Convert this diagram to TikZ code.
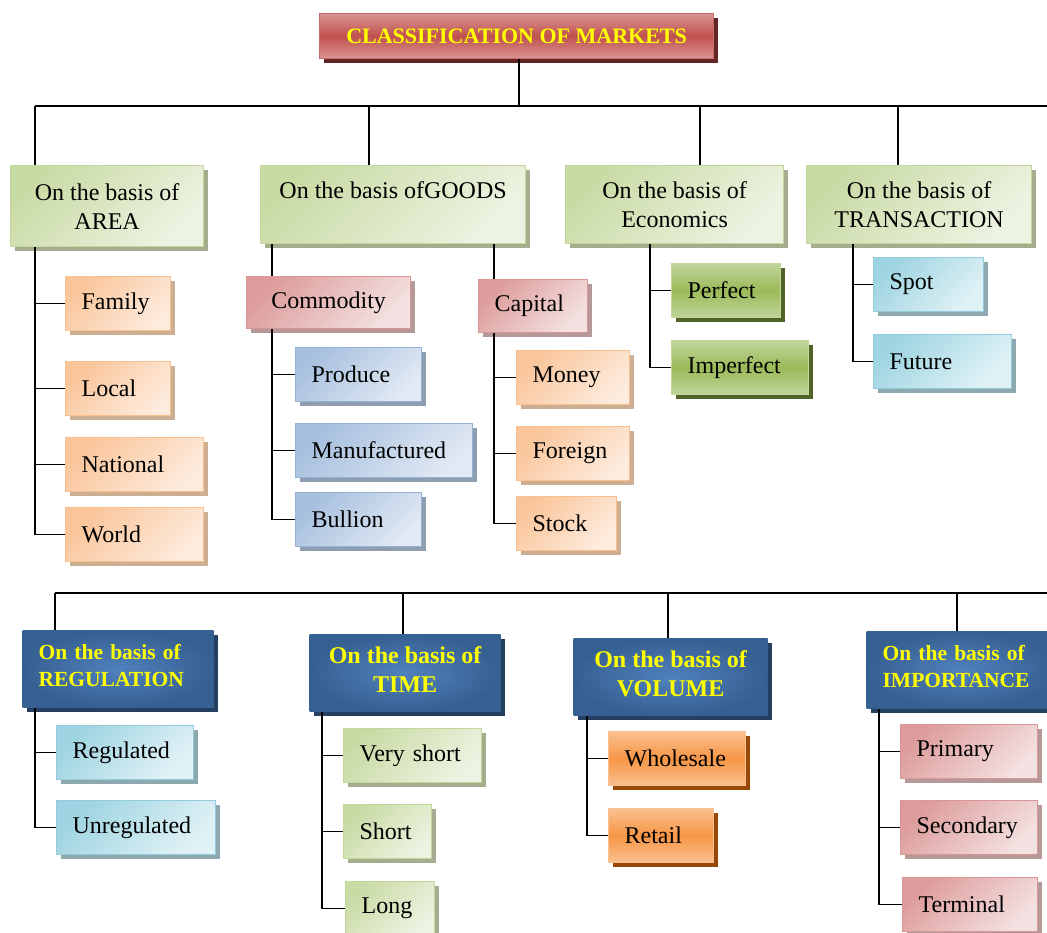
\documentclass[tikz,border=0pt]{standalone}
\usepackage{fontspec}
\setmainfont{Liberation Serif}
\usetikzlibrary{shadows}

\definecolor{grnD}{HTML}{C9DBA5}
\definecolor{grnL}{HTML}{EDF3E2}
\definecolor{grnB}{HTML}{C3D69B}
\definecolor{grnS}{HTML}{A4AD8E}
\definecolor{orgD}{HTML}{FAC59A}
\definecolor{orgL}{HTML}{FDEBDD}
\definecolor{orgB}{HTML}{F9BF8F}
\definecolor{orgS}{HTML}{CCAE93}
\definecolor{pnkD}{HTML}{DD9C9B}
\definecolor{pnkL}{HTML}{F4E1E1}
\definecolor{pnkB}{HTML}{D99694}
\definecolor{pnkS}{HTML}{B59898}
\definecolor{bluD}{HTML}{A7C0DE}
\definecolor{bluL}{HTML}{E1E9F4}
\definecolor{bluB}{HTML}{95B3D7}
\definecolor{bluS}{HTML}{8E9DB0}
\definecolor{cyaD}{HTML}{9ED4E1}
\definecolor{cyaL}{HTML}{E1F2F6}
\definecolor{cyaB}{HTML}{93CDDD}
\definecolor{cyaS}{HTML}{8DA8AF}
\definecolor{olvT}{HTML}{C0D59A}
\definecolor{olvM}{HTML}{9BBB59}
\definecolor{olvS}{HTML}{4F6228}
\definecolor{ambT}{HTML}{FAC090}
\definecolor{ambM}{HTML}{F79646}
\definecolor{ambS}{HTML}{984807}
\definecolor{redT}{HTML}{DA9694}
\definecolor{redM}{HTML}{C0504D}
\definecolor{redB}{HTML}{CC6A67}
\definecolor{redS}{HTML}{632523}
\definecolor{navL}{HTML}{4F81BD}
\definecolor{navD}{HTML}{376092}
\definecolor{navS}{HTML}{243F60}
\definecolor{yell}{HTML}{FFFF00}

\tikzset{
  box/.style={anchor=north west, line width=1.2pt, inner xsep=16pt, inner ysep=0pt},
  grad/.style n args={4}{top color=#1, bottom color=#2, shading angle=45, draw=#3,
    drop shadow={shadow xshift=4pt, shadow yshift=-4pt, fill=#4, opacity=1}},
  band/.style n args={4}{top color=#1, bottom color=#1, middle color=#2, draw=#3,
    drop shadow={shadow xshift=4pt, shadow yshift=-4pt, fill=#4, opacity=1}},
  leaf/.style={box, align=left, minimum height=54pt, font=\fontsize{24}{29}\selectfont},
  head/.style={box, align=center, minimum height=78pt, font=\fontsize{24}{29}\selectfont,
    grad={grnD}{grnL}{grnB}{grnS}},
  navy/.style={box, text=yell, font=\bfseries\fontsize{21.5}{27}\selectfont,
    minimum height=77pt, inner color=navL, outer color=navD, draw=none,
    execute at end node={\rule[-8pt]{0pt}{8pt}},
    drop shadow={shadow xshift=4pt, shadow yshift=-4pt, fill=navS, opacity=1}},
  big/.style={font=\bfseries\fontsize{24}{29}\selectfont},
  titlebox/.style={box, text=yell, font=\bfseries\fontsize{22}{26}\selectfont,
    minimum width=394pt, minimum height=45pt, band={redT}{redM}{redB}{redS}},
  grn/.style={grad={grnD}{grnL}{grnB}{grnS}},
  orng/.style={grad={orgD}{orgL}{orgB}{orgS}},
  pnk/.style={grad={pnkD}{pnkL}{pnkB}{pnkS}},
  blu/.style={grad={bluD}{bluL}{bluB}{bluS}},
  cya/.style={grad={cyaD}{cyaL}{cyaB}{cyaS}},
  olv/.style={band={olvT}{olvM}{grnB}{olvS}},
  amb/.style={band={ambT}{ambM}{ambT}{ambS}},
  wire/.style={line width=1.3pt, black}
}

\begin{document}
\begin{tikzpicture}[x=1pt,y=-1pt]
\useasboundingbox (0,0) rectangle (1047,933);

\node[titlebox] (title) at (319,13) {CLASSIFICATION OF MARKETS};

\node[head, minimum width=193pt, minimum height=81pt] (area) at (10,165) {On the basis of\\AREA};
\node[head, minimum width=265pt] (goods) at (260,165) {On the basis ofGOODS\\~};
\node[head, minimum width=218pt] (econ) at (565,165) {On the basis of\\Economics};
\node[head, minimum width=225pt] (trans) at (806,165) {On the basis of\\TRANSACTION};

\node[navy, text width=159pt, align=left] (reg) at (22,630) {On the basis of\\REGULATION};
\node[navy, big, minimum width=191pt, align=center] (tim) at (309,634) {On the basis of\\TIME};
\node[navy, big, minimum width=194pt, align=center] (vol) at (573,638) {On the basis of\\VOLUME};
\node[navy, text width=158pt, align=left] (impo) at (866,631) {On the basis of\\IMPORTANCE};

\node[leaf, pnk, text width=132pt, align=center, minimum height=52pt] (comm) at (246,276) {Commodity};
\node[leaf, pnk, text width=77pt, minimum height=53pt] (cap) at (478,279) {Capital};

\foreach \n/\x/\y/\w/\t/\c in {
    fam/65/276/73/Family/orng, loc/65/361/73/Local/orng,
    nat/65/437/106/National/orng, wor/65/507/106/World/orng,
    prod/295/347/94/Produce/blu, manu/295/423/145/Manufactured/blu,
    bull/295/492/94/Bullion/blu,
    mon/516/350/81/Money/orng, for/516/426/81/Foreign/orng, sto/516/496/68/Stock/orng,
    per/671/263/77/Perfect/olv, imp/671/340/105/Imperfect/olv,
    spo/873/257/78/Spot/cya, fut/873/334/106/Future/cya,
    rgd/56/725/105/Regulated/cya, urg/56/800/127/Unregulated/cya,
    vsh/343/728/106/Very short/grn, sho/343/804/56/Short/grn, lon/345/881/57/Long/grn,
    who/608/731/105/Wholesale/amb, ret/608/808/73/Retail/amb,
    pri/900/724/105/Primary/pnk, sec/900/800/105/Secondary/pnk, ter/902/877/103/Terminal/pnk}
  \node[leaf, \c, text width=\w pt] (\n) at (\x,\y) {\t};

\coordinate (bus) at (519,106);
\coordinate (busL) at (35,106);
\coordinate (busR) at (1050,106);
\draw[wire] (bus |- title.south) -- (bus);
\draw[wire] (busL) -- (busR);
\foreach \n/\x in {area/35, goods/369, econ/700, trans/898} {
  \coordinate (d-\n) at (\x,106);
  \draw[wire] (d-\n) -- (d-\n |- \n.north);
}

\coordinate (bus2L) at (55,593);
\coordinate (bus2R) at (1050,593);
\draw[wire] (bus2L) -- (bus2R);
\foreach \n/\x in {reg/55, tim/403, vol/668, impo/957} {
  \coordinate (d-\n) at (\x,593);
  \draw[wire] (d-\n) -- (d-\n |- \n.north);
}

\foreach \n/\x/\kids in {area/35/{fam,loc,nat,wor}, comm/272/{prod,manu,bull},
    cap/494/{mon,for,sto}, econ/650/{per,imp}, trans/853/{spo,fut},
    reg/35/{rgd,urg}, tim/322/{vsh,sho,lon}, vol/587/{who,ret}, impo/879/{pri,sec,ter}} {
  \coordinate (s-\n) at (\x,0);
  \foreach \k in \kids
    \draw[wire] (s-\n |- \n.south) |- (\k.west);
}
\draw[wire] (s-comm |- goods.south) -- (s-comm |- comm.north);
\draw[wire] (s-cap |- goods.south) -- (s-cap |- cap.north);
\end{tikzpicture}
\end{document}
